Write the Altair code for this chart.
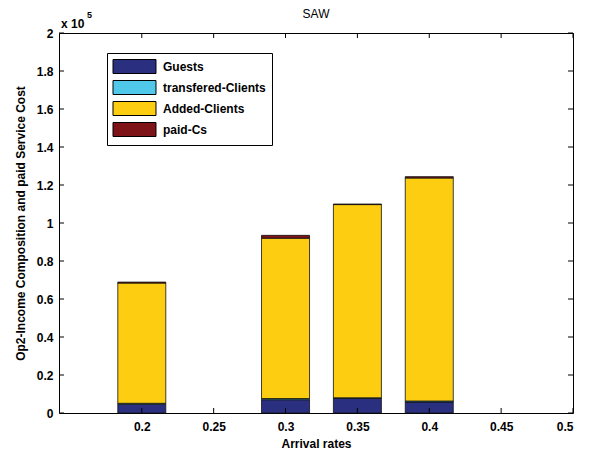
import altair as alt
import pandas as pd

rates = [0.2, 0.3, 0.35, 0.4]
series = ["Guests", "transfered-Clients", "Added-Clients", "paid-Cs"]
guests = [4600, 7000, 7700, 5800]
transfered = [500, 600, 300, 500]
added = [63300, 84400, 101700, 117400]
paid = [500, 1500, 300, 700]
colors = ["#2B2F7F", "#4FC8EA", "#FCCD10", "#7E1418"]
x_ticks = [0.2, 0.25, 0.3, 0.35, 0.4, 0.45, 0.5]
y_ticks = [0, 20000, 40000, 60000, 80000, 100000, 120000, 140000, 160000, 180000, 200000]

rows = []
for i, r in enumerate(rates):
    base = 0
    for k, (name, vals) in enumerate(zip(series, [guests, transfered, added, paid])):
        rows.append({"rate": r, "series": name, "y0": base, "y1": base + vals[i], "order": k})
        base += vals[i]
df = pd.DataFrame(rows)

W, H = 514, 380
FONT = "Liberation Sans"
half_w = 0.0167

xscale = alt.Scale(domain=[0.1424, 0.5], nice=False, zero=False)
yscale = alt.Scale(domain=[0, 200000], nice=False)

xaxis = alt.Axis(
    values=x_ticks, title="Arrival rates", tickSize=0, grid=False,
    labelExpr="datum.value + ''", labelPadding=8, titlePadding=6,
    labelFont=FONT, labelFontSize=12, labelFontWeight="bold", labelColor="#000",
    titleFont=FONT, titleFontSize=12, titleFontWeight="bold", titleColor="#000",
    labelOverlap=False, domain=False)
yaxis = alt.Axis(
    values=y_ticks, title="Op2-Income Composition and paid Service Cost",
    tickSize=0, grid=False, labelExpr="datum.value / 100000 + ''",
    labelPadding=6, titlePadding=9, labelOverlap=False,
    labelFont=FONT, labelFontSize=12, labelFontWeight="bold", labelColor="#000",
    titleFont=FONT, titleFontSize=12, titleFontWeight="bold", titleColor="#000",
    domain=False)

bars = alt.Chart(df).mark_rect(stroke="#111111", strokeWidth=0.8).transform_calculate(
    x1=f"datum.rate - {half_w}", x2=f"datum.rate + {half_w}"
).encode(
    x=alt.X("x1:Q", scale=xscale, axis=xaxis),
    x2="x2:Q",
    y=alt.Y("y0:Q", scale=yscale, axis=yaxis),
    y2="y1:Q",
    color=alt.Color("series:N", scale=alt.Scale(domain=series, range=colors), legend=alt.Legend(
        title=None, orient="none", legendX=48, legendY=20,
        symbolType="M-3.07,-1H3.07V1H-3.07Z", symbolSize=196, symbolStrokeColor="#000",
        symbolStrokeWidth=1, symbolOffset=14, labelOffset=21,
        labelFont=FONT, labelFontSize=12, labelFontWeight="bold", labelColor="#000",
        rowPadding=2, padding=6, strokeColor="#000", fillColor="#fff",
        symbolOpacity=1)),
)

xt = pd.DataFrame({"t": x_ticks})
yt = pd.DataFrame({"t": y_ticks})
tick_len = 5
xticks_b = alt.Chart(xt).mark_rule(color="#000", strokeWidth=1).encode(
    x=alt.X("t:Q", scale=xscale, axis=xaxis), y=alt.value(H), y2=alt.value(H - tick_len))
xticks_t = alt.Chart(xt).mark_rule(color="#000", strokeWidth=1).encode(
    x=alt.X("t:Q", scale=xscale, axis=xaxis), y=alt.value(0), y2=alt.value(tick_len))
yticks_l = alt.Chart(yt).mark_rule(color="#000", strokeWidth=1).encode(
    y=alt.Y("t:Q", scale=yscale, axis=yaxis), x=alt.value(0), x2=alt.value(tick_len))
yticks_r = alt.Chart(yt).mark_rule(color="#000", strokeWidth=1).encode(
    y=alt.Y("t:Q", scale=yscale, axis=yaxis), x=alt.value(W), x2=alt.value(W - tick_len))

exp_base = alt.Chart(pd.DataFrame({"s": ["x 10"]})).mark_text(
    font=FONT, fontSize=12, fontWeight="bold", align="left", baseline="alphabetic", color="#000"
).encode(text="s:N", x=alt.value(2), y=alt.value(-5))
exp_sup = alt.Chart(pd.DataFrame({"s": ["5"]})).mark_text(
    font=FONT, fontSize=9, fontWeight="bold", align="left", baseline="alphabetic", color="#000"
).encode(text="s:N", x=alt.value(28), y=alt.value(-15))
title_txt = alt.Chart(pd.DataFrame({"s": ["SAW"]})).mark_text(
    font=FONT, fontSize=12, fontWeight="normal", align="center", baseline="middle", color="#000"
).encode(text="s:N", x=alt.value(W / 2), y=alt.value(-19))

chart = alt.layer(bars, xticks_b, xticks_t, yticks_l, yticks_r, exp_base, exp_sup, title_txt).properties(
    width=W, height=H,
    autosize=alt.AutoSizeParams(type="none"),
    padding={"left": 51, "top": 25, "right": 10, "bottom": 40},
).configure_view(stroke="#000", strokeWidth=1).configure_axis(
    domain=False
)

chart.save("out.html", embed_options={"renderer": "svg", "actions": False})
